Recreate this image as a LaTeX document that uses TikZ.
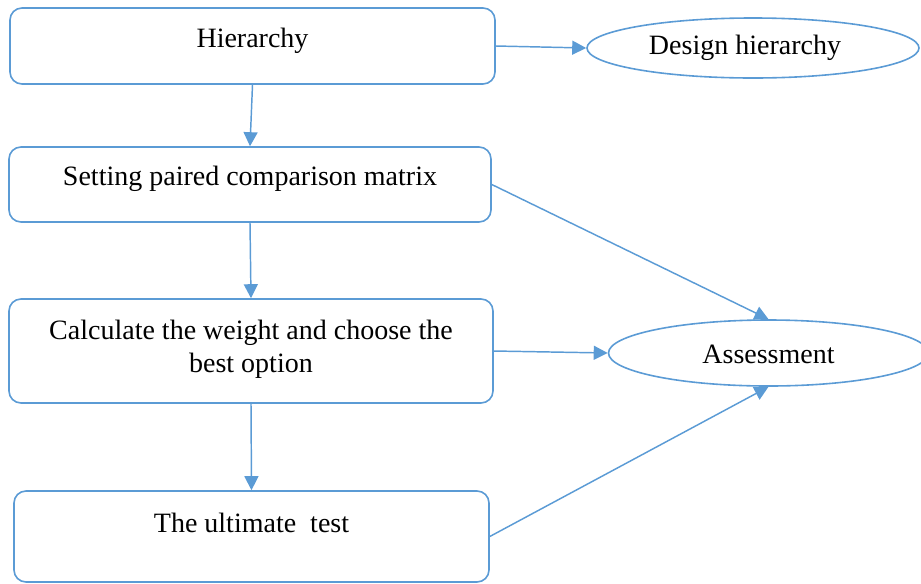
\documentclass[tikz,border=0pt]{standalone}
\usepackage{fontspec}
\setmainfont{Liberation Serif}
\usetikzlibrary{arrows.meta,shapes.geometric}

\definecolor{lineblue}{HTML}{5B9BD5}

\tikzset{
  box/.style={draw=lineblue, line width=1.2pt, rounded corners=9pt, inner sep=0pt},
  oval/.style={draw=lineblue, line width=1.2pt, ellipse, inner sep=0pt},
  flow/.style={draw=lineblue, line width=1.1pt, -{Triangle[length=10.5pt,width=10.5pt]}, lineblue}
}

\begin{document}
\begin{tikzpicture}[x=0.75pt, y=-0.75pt, line cap=round, line join=round,
    font=\fontsize{21}{25}\selectfont]
  \useasboundingbox (0,0) rectangle (921,583);

  % Steps
  \node[box, minimum width=363.75pt, minimum height=57pt,
    label={[yshift=4pt]center:Hierarchy}] (hier) at (252.5,46) {};
  \node[box, minimum width=361.5pt, minimum height=56.25pt,
    label={[yshift=4pt]center:Setting paired comparison matrix}] (matrix) at (250,184.5) {};
  \node[box, minimum width=363pt, minimum height=78pt,
    label={[yshift=1.5pt, align=center]center:Calculate the weight and choose the\\best option}] (weight) at (251,351) {};
  \node[box, minimum width=356.25pt, minimum height=68.25pt,
    label={[yshift=10pt]center:The ultimate\ \ test}] (test) at (251.5,536.5) {};

  % Outcomes
  \node[oval, minimum width=249pt, minimum height=45pt,
    label={[xshift=-6pt]center:Design hierarchy}] (design) at (753,48) {};
  \node[oval, minimum width=240pt, minimum height=49.5pt,
    label={[yshift=-1pt]center:Assessment}] (assess) at (768.5,353) {};

  % Arrows down
  \draw[flow] (hier.south) -- (matrix.north);
  \draw[flow] (matrix.south) -- (weight.north);
  \draw[flow] (weight.south) -- (test.north);

  % Arrows right
  \draw[flow] (hier.east) -- (design.west);
  \draw[flow] (matrix.east) -- (assess.north);
  \draw[flow] (weight.east) -- (assess.west);
  \draw[flow] (test.east) -- (assess.south);
\end{tikzpicture}
\end{document}
